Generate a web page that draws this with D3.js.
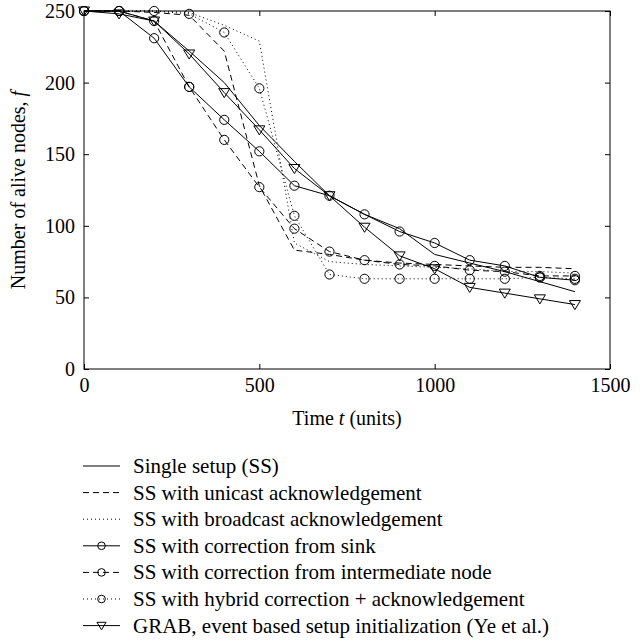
<!DOCTYPE html>
<html><head><meta charset="utf-8">
<script src="https://cdn.jsdelivr.net/npm/d3@7"></script>
<style>body{margin:0;background:#fff}svg{display:block}text{font-family:"Liberation Serif","DejaVu Serif",serif;fill:#000}</style>
</head><body><svg id="c" width="644" height="642"></svg>
<script>
const times = [0,100,200,300,400,500,600,700,800,900,1000,1100,1200,1300,1400];
const singleSetup   = [250,250,243,222,200,170,145,121,108,98,80,74,68,61,54];
const unicastAck    = [250,250,249,247,222,128,83,80,76,74,73,72,71,71,70];
const broadcastAck  = [250,250,250,249,240,229,88,75,73,72,71,70,68,68,67];
const corrSink      = [250,250,231,197,174,152,128,121,108,96,88,76,72,64,62];
const corrInter     = [250,250,243,197,160,127,98,82,76,73,72,69,68,65,65];
const hybridCorr    = [250,250,250,248,235,196,107,66,63,63,63,63,63,64,63];
const grab          = [250,248,243,220,193,167,140,121,99,79,70,57,53,49,45];
const xTicks = [0,500,1000,1500];
const yTicks = [0,50,100,150,200,250];
const legendLabels = ["Single setup (SS)","SS with unicast acknowledgement","SS with broadcast acknowledgement","SS with correction from sink","SS with correction from intermediate node","SS with hybrid correction + acknowledgement","GRAB, event based setup initialization (Ye et al.)"];

const series = [
  {v:singleSetup, dash:null, m:null},
  {v:unicastAck, dash:"6,4", m:null},
  {v:broadcastAck, dash:"1,3", m:null},
  {v:corrSink, dash:null, m:"o"},
  {v:corrInter, dash:"6,4", m:"o"},
  {v:hybridCorr, dash:"1,3", m:"o"},
  {v:grab, dash:null, m:"v"}
];

const svg = d3.select("#c");
const L=84, R=610, T=11, B=369;
const x = d3.scaleLinear().domain([0,1500]).range([L,R]);
const y = d3.scaleLinear().domain([0,250]).range([B,T]);
const fs = 20, lfs = 21;

const fmt = d3.format("d");
const axB = d3.axisBottom(x).tickValues(xTicks).tickFormat(fmt).tickSizeInner(-5).tickSizeOuter(0).tickPadding(9);
const axL = d3.axisLeft(y).tickValues(yTicks).tickFormat(fmt).tickSizeInner(-5).tickSizeOuter(0).tickPadding(9);
const gB = svg.append("g").attr("transform",`translate(0,${B})`).call(axB);
const gL = svg.append("g").attr("transform",`translate(${L},0)`).call(axL);
const gT = svg.append("g").attr("transform",`translate(0,${T})`).call(d3.axisTop(x).tickValues(xTicks).tickSizeInner(-5).tickSizeOuter(0).tickFormat(""));
const gR = svg.append("g").attr("transform",`translate(${R},0)`).call(d3.axisRight(y).tickValues(yTicks).tickSizeInner(-5).tickSizeOuter(0).tickFormat(""));
[gB,gL,gT,gR].forEach(g=>{g.select(".domain").remove();g.selectAll("line").attr("stroke","#000");g.selectAll("text").style("font-size",fs+"px").style("font-family",'"Liberation Serif",serif').attr("fill","#000");});
svg.append("rect").attr("x",L).attr("y",T).attr("width",R-L).attr("height",B-T).attr("fill","none").attr("stroke","#000").attr("stroke-width",1);

const line = d3.line().x((d,i)=>x(times[i])).y(d=>y(d));
function marker(g, type, cx, cy, r){
  r = r||4.6;
  if(type==="o") g.append("circle").attr("cx",cx).attr("cy",cy).attr("r",r).attr("fill","none").attr("stroke","#000").attr("stroke-width",1);
  else if(type==="v") g.append("path").attr("d",`M${cx-r*1.2},${cy-r*0.87}L${cx+r*1.2},${cy-r*0.87}L${cx},${cy+r*1.1}Z`).attr("fill","none").attr("stroke","#000").attr("stroke-width",1);
}
const plot = svg.append("g");
series.forEach(s=>{
  plot.append("path").attr("d",line(s.v)).attr("fill","none").attr("stroke","#000").attr("stroke-width",1)
    .attr("stroke-dasharray",s.dash);
  if(s.m) s.v.forEach((d,i)=>marker(plot,s.m,x(times[i]),y(d)));
});

svg.append("text").attr("x",347).attr("y",425).attr("text-anchor","middle").style("font-size",fs+"px")
  .html('Time <tspan font-style="italic">t</tspan> (units)');
svg.append("text").attr("transform","translate(25,190) rotate(-90)").attr("text-anchor","middle").style("font-size",fs+"px")
  .html('Number of alive nodes, <tspan font-style="italic">f</tspan>');

const lg = svg.append("g");
const rowY = d3.range(7).map(i=>466+i*26.6);
series.forEach((s,i)=>{
  const yy=rowY[i];
  lg.append("line").attr("x1",83).attr("x2",120).attr("y1",yy).attr("y2",yy).attr("stroke","#000").attr("stroke-width",1).attr("stroke-dasharray",s.dash);
  if(s.m) marker(lg,s.m,101.5,yy,3.8);
  lg.append("text").attr("x",133).attr("y",yy).attr("dy","0.33em").style("font-size",lfs+"px").text(legendLabels[i]);
});
</script></body></html>
